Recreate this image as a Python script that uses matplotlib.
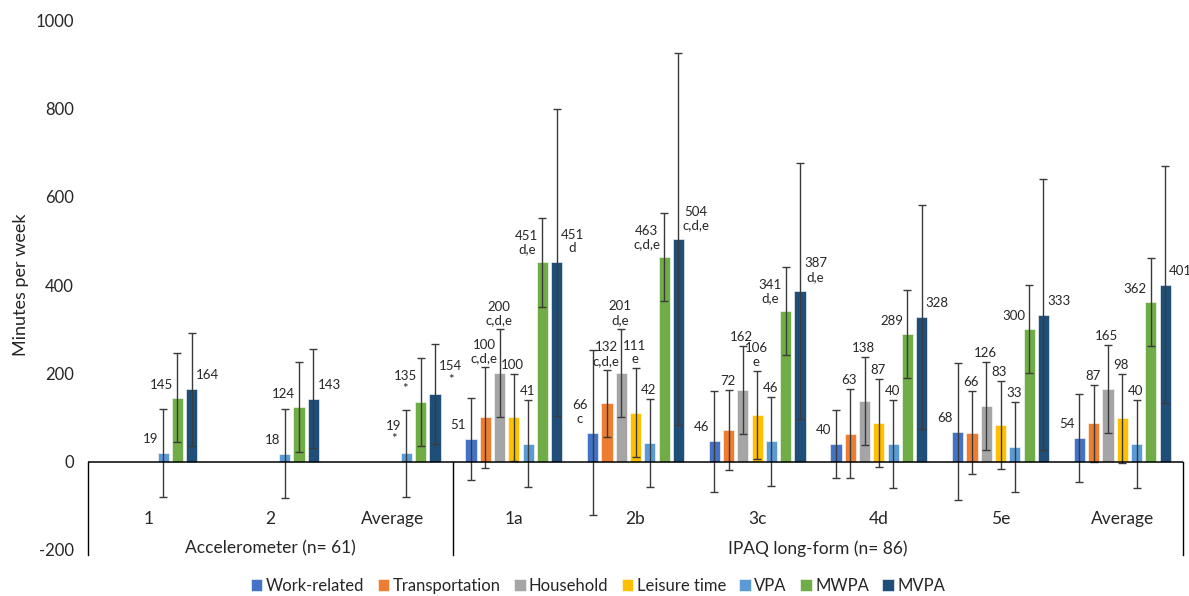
import matplotlib.pyplot as plt
import numpy as np

plt.rcParams['font.family'] = ['Lato', 'DejaVu Sans']
plt.rcParams['axes.unicode_minus'] = False

groups = ['1', '2', 'Average', '1a', '2b', '3c', '4d', '5e', 'Average']
series = ['Work-related', 'Transportation', 'Household', 'Leisure time', 'VPA', 'MWPA', 'MVPA']
colors = ['#4472C4', '#ED7D31', '#A5A5A5', '#FFC000', '#5B9BD5', '#70AD47', '#1F4E79']

nan = np.nan
# rows = groups, cols = series
means = np.array([
    [nan, nan, nan, nan, 19, 145, 164],
    [nan, nan, nan, nan, 18, 124, 143],
    [nan, nan, nan, nan, 19, 135, 154],
    [51, 100, 200, 100, 41, 451, 451],
    [66, 132, 201, 111, 42, 463, 504],
    [46, 72, 162, 106, 46, 341, 387],
    [40, 63, 138, 87, 40, 289, 328],
    [68, 66, 126, 83, 33, 300, 333],
    [54, 87, 165, 98, 40, 362, 401],
])
sds = np.array([
    [nan, nan, nan, nan, 100, 100, 128],
    [nan, nan, nan, nan, 101, 101, 113],
    [nan, nan, nan, nan, 99, 99, 113],
    [93, 114, 100, 98, 99, 100, 348],
    [187, 76, 100, 100, 99, 99, 421],
    [114, 90, 100, 100, 100, 100, 290],
    [76, 101, 100, 100, 100, 100, 254],
    [155, 93, 100, 100, 101, 100, 307],
    [100, 87, 100, 100, 100, 100, 268],
])
# significance letters under the values
notes = [
    ['', '', '', '', '', '', ''],
    ['', '', '', '', '', '', ''],
    ['', '', '', '', '*', '*', '*'],
    ['', 'c,d,e', 'c,d,e', '', '', 'd,e', 'd'],
    ['c', 'c,d,e', 'd,e', 'e', '', 'c,d,e', 'c,d,e'],
    ['', '', '', 'e', '', 'd,e', 'd,e'],
    ['', '', '', '', '', '', ''],
    ['', '', '', '', '', '', ''],
    ['', '', '', '', '', '', ''],
]
sections = ['Accelerometer (n= 61)', 'IPAQ long-form (n= 86)']
section_span = [(0, 2), (3, 8)]

fig = plt.figure(figsize=(11.89, 5.96), dpi=100)
ax = fig.add_axes([0.074, 0.0772, 0.921, 0.8892])

x = np.arange(len(groups))
step = 0.1175
width = 0.092
px = 0.72  # points per pixel at dpi 100

for j, (name, col) in enumerate(zip(series, colors)):
    xs = x + (j - 3) * step
    ax.bar(xs, means[:, j], width, color=col, edgecolor='white', linewidth=0.4, label=name, zorder=2)
    ax.errorbar(xs, means[:, j], yerr=sds[:, j], fmt='none', ecolor='#3a3a3a',
                elinewidth=1.0, capsize=3.2, capthick=1.0, zorder=3)

for i in range(len(groups)):
    first = np.where(~np.isnan(means[i]))[0][0]
    for j in range(len(series)):
        v = means[i, j]
        if np.isnan(v):
            continue
        txt = '%d' % v
        if notes[i][j]:
            txt += '\n' + notes[i][j]
        bx = x[i] + (j - 3) * step
        if j == first:
            xy, off, ha = (bx, v), (-5 * px, 8 * px), 'right'
        elif j == 5:
            xy, off, ha = (bx, v), (-4 * px, 7 * px), 'right'
        elif j == 6:
            xy, off, ha = (bx, v), (4 * px, 8 * px), 'left'
        else:
            xy, off, ha = (bx, v + sds[i, j]), (-1 * px, 3 * px), 'center'
        ax.annotate(txt, xy, xytext=off, textcoords='offset points', ha=ha, va='bottom',
                    fontsize=9.5, color='#262626', linespacing=1.15, multialignment='center')

ax.set_xlim(-0.5, len(groups) - 0.5)
ax.set_ylim(-200, 1000)
ax.set_yticks(np.arange(-200, 1001, 200))
ax.set_yticklabels([str(t) for t in range(-200, 1001, 200)])
ax.tick_params(axis='y', length=0, pad=10, labelsize=12, labelcolor='#262626')
ax.tick_params(axis='x', length=0, labelbottom=False)
for s in ax.spines.values():
    s.set_visible(False)
ax.axhline(0, color='black', lw=1.1, zorder=4)
ax.set_ylabel('Minutes per week', fontsize=13, color='#262626', labelpad=5)

for xv in [-0.5, 2.5, len(groups) - 0.5]:
    ax.plot([xv, xv], [0, -212], color='black', lw=1.0, clip_on=False)
for i, g in enumerate(groups):
    ax.text(x[i], -130, g, ha='center', va='center', fontsize=12.5, color='#262626')
for name, (a, b) in zip(sections, section_span):
    ax.text((a + b) / 2, -197, name, ha='center', va='center', fontsize=12.5, color='#262626', clip_on=False)

handles, labels = ax.get_legend_handles_labels()
fig.legend(handles[:7], labels[:7], loc='lower center', bbox_to_anchor=(0.503, -0.022), ncol=7,
           frameon=False, fontsize=12, handlelength=0.7, handleheight=0.7,
           handletextpad=0.2, columnspacing=0.8, labelcolor='#262626')

plt.savefig('out.png', dpi=100, facecolor='white')
